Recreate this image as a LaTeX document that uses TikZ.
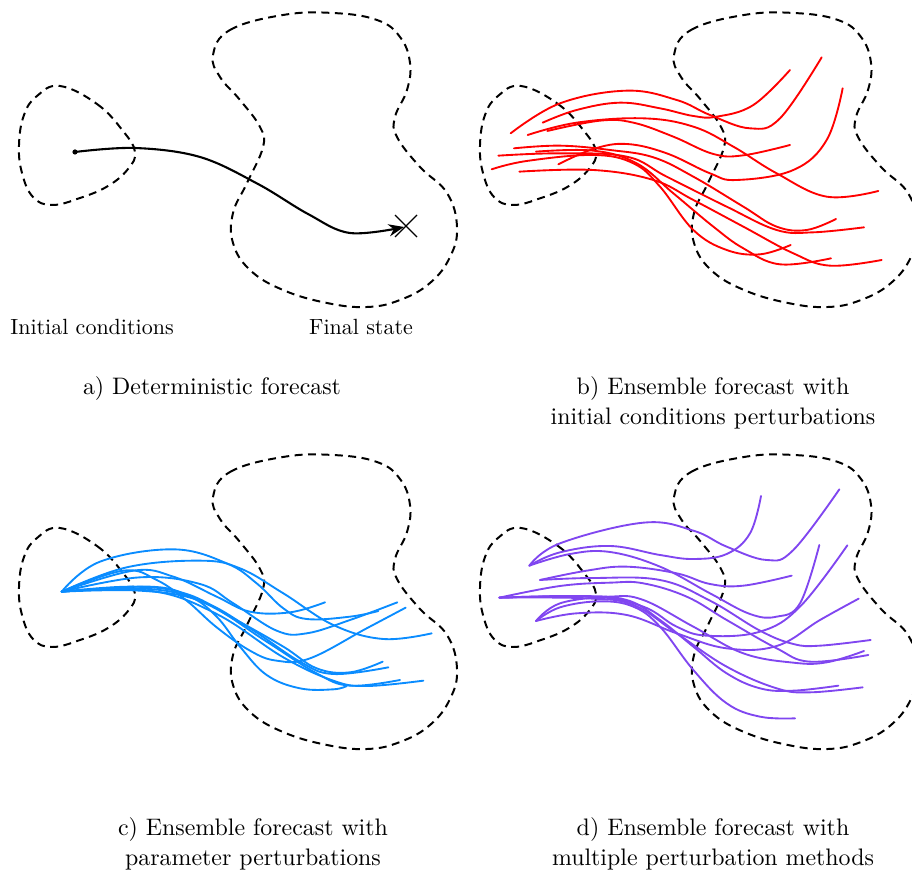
\documentclass[tikz,border=0pt]{standalone}
\usetikzlibrary{arrows.meta,calc}
\definecolor{ensred}{RGB}{255,0,0}
\definecolor{ensblue}{RGB}{10,140,255}
\definecolor{enspurple}{RGB}{128,70,240}
\tikzset{
  blob/.style={draw=black, line width=0.9pt, dash pattern=on 3.6pt off 2.5pt},
  traj/.style={line width=0.85pt, line cap=round},
  rtraj/.style={traj, draw=ensred},
  btraj/.style={traj, draw=ensblue},
  ptraj/.style={traj, draw=enspurple},
  lbl/.style={anchor=base, inner sep=0pt},
  captext/.style={anchor=base, inner sep=0pt, font=\fontsize{10.85pt}{13pt}\selectfont},
  pics/regions/.style={code={
    \draw[blob] plot[smooth cycle, tension=0.7] coordinates {
      (60,86) (97,104) (123,131) (135,152) (128,169) (108,186) (80,198)
      (52,205) (33,197) (22,173) (19,145) (24,115) (37,96)};
    \draw[blob] plot[smooth cycle, tension=0.7] coordinates {
      (213,55) (230,30) (283,15) (333,13) (377,20) (400,37) (410,63)
      (407,90) (395,117) (397,137) (420,167) (447,193) (457,227)
      (450,257) (430,283) (400,300) (367,307) (327,303) (283,290)
      (250,270) (233,243) (233,213) (247,183) (263,147) (260,127)
      (240,100) (220,77)};
  }},
}
\begin{document}
\begin{tikzpicture}[x={(0.4545pt,0)}, y={(0,-0.4545pt)}]
\useasboundingbox (0,0) rectangle (912,873);
\clip (0,0) rectangle (912,873);

% ---------- a) ----------
\pic (pa) at (0,0) {regions};
\coordinate (astart) at (75,152);
\coordinate (aend) at (404,227);
\fill (astart) circle[radius=2.6];
\draw[line width=0.95pt, -{Stealth[length=7pt,width=5.5pt]}] plot[smooth, tension=0.6] coordinates {
  (75,152) (135,148) (200,157) (258,184) (308,214) (350,233) (404,227)};
\node[inner sep=0pt, minimum size=0pt] (xmark) at (406,226) {};
\draw[line width=0.6pt] ($(xmark)+(-11,-11)$) -- ($(xmark)+(11,11)$);
\draw[line width=0.6pt] ($(xmark)+(-11,11)$) -- ($(xmark)+(11,-11)$);
\node[lbl] (linit) at (92,335) {Initial conditions};
\node[lbl] (lfinal) at (361,335) {Final state};
\node[captext] (capa) at (212,395) {a) Deterministic forecast};

% ---------- b) ----------
\pic (pb) at (461,0) {regions};
\begin{scope}[shift={(460,0)}, scale=1/3]
\draw[rtraj] plot[smooth, tension=0.65] coordinates {(152,400) (300,310) (500,272) (650,300) (750,345) (870,385) (960,355) (1085,172)};
\draw[rtraj] plot[smooth, tension=0.65] coordinates {(248,368) (350,330) (480,308) (600,325) (700,348) (770,350) (880,315) (990,210)};
\draw[rtraj] plot[smooth, tension=0.65] coordinates {(203,405) (350,368) (550,355) (700,380) (820,440) (950,520) (1100,590) (1255,573)};
\draw[rtraj] plot[smooth, tension=0.65] coordinates {(262,393) (420,362) (520,368) (640,410) (760,462) (850,466) (990,435)};
\draw[rtraj] plot[smooth, tension=0.65] coordinates {(295,493) (400,447) (500,432) (620,460) (750,520) (830,540) (1000,510) (1100,420) (1148,265)};
\draw[rtraj] plot[smooth, tension=0.65] coordinates {(162,445) (300,437) (450,450) (580,472) (700,530) (850,620) (950,680) (1040,690) (1128,657)};
\draw[rtraj] plot[smooth, tension=0.65] coordinates {(115,467) (300,460) (500,470) (620,530) (800,620) (950,690) (1060,697) (1212,682)};
\draw[rtraj] plot[smooth, tension=0.65] coordinates {(228,455) (400,452) (530,490) (640,580) (760,680) (850,745) (960,793) (1113,775)};
\draw[rtraj] plot[smooth, tension=0.65] coordinates {(95,508) (200,483) (400,465) (520,490) (600,560) (700,690) (800,750) (900,763) (992,735)};
\draw[rtraj] plot[smooth, tension=0.65] coordinates {(178,515) (400,510) (580,540) (700,600) (850,680) (1000,760) (1110,797) (1265,780)};
\end{scope}
\node[captext] (capb1) at (713,395) {b) Ensemble forecast with};
\node[captext] (capb2) at (713,425) {initial conditions perturbations};

% ---------- c) ----------
\pic (pc) at (0,442) {regions};
\begin{scope}[shift={(0,440)}, scale=1/3]
\draw[btraj] plot[smooth, tension=0.65] coordinates {(185,455) (300,365) (520,328) (680,370) (770,430) (850,505) (920,537) (1050,530) (1135,513)};
\draw[btraj] plot[smooth, tension=0.65] coordinates {(185,455) (380,382) (600,362) (720,385) (850,460) (1000,555) (1150,597) (1295,580)};
\draw[btraj] plot[smooth, tension=0.65] coordinates {(185,455) (400,392) (520,410) (650,470) (750,515) (870,517) (975,487)};
\draw[btraj] plot[smooth, tension=0.65] coordinates {(185,455) (420,412) (600,432) (700,490) (830,572) (920,580) (1050,540) (1192,487)};
\draw[btraj] plot[smooth, tension=0.65] coordinates {(185,455) (370,392) (470,420) (560,482) (650,562) (750,632) (830,662) (930,655) (1100,565) (1217,503)};
\draw[btraj] plot[smooth, tension=0.65] coordinates {(185,455) (400,440) (560,462) (700,535) (850,620) (950,685) (1050,697) (1148,665)};
\draw[btraj] plot[smooth, tension=0.65] coordinates {(185,455) (420,452) (600,482) (750,565) (900,665) (1000,702) (1165,682)};
\draw[btraj] plot[smooth, tension=0.65] coordinates {(185,455) (450,447) (620,492) (800,605) (950,700) (1050,737) (1200,720)};
\draw[btraj] plot[smooth, tension=0.65] coordinates {(185,455) (450,452) (650,522) (850,652) (1000,722) (1100,738) (1270,722)};
\draw[btraj] plot[smooth, tension=0.65] coordinates {(185,455) (450,440) (570,470) (650,530) (720,620) (800,705) (900,745) (1000,748) (1040,738)};
\end{scope}
\node[captext] (capc1) at (253,835) {c) Ensemble forecast with};
\node[captext] (capc2) at (253,865) {parameter perturbations};

% ---------- d) ----------
\pic (pd) at (461,442) {regions};
\begin{scope}[shift={(460,440)}, scale=1/3]
\draw[ptraj] plot[smooth, tension=0.65] coordinates {(208,377) (300,310) (550,248) (700,272) (800,320) (920,360) (1000,330) (1138,148)};
\draw[ptraj] plot[smooth, tension=0.65] coordinates {(208,377) (300,337) (450,318) (600,345) (700,357) (800,342) (870,280) (903,168)};
\draw[ptraj] plot[smooth, tension=0.65] coordinates {(208,377) (330,342) (450,336) (600,380) (750,460) (870,522) (950,530) (1020,490) (1078,315)};
\draw[ptraj] plot[smooth, tension=0.65] coordinates {(240,420) (380,392) (500,380) (650,400) (750,432) (850,437) (995,407)};
\draw[ptraj] plot[smooth, tension=0.65] coordinates {(240,420) (400,414) (600,420) (750,482) (900,572) (1000,612) (1080,617) (1232,600)};
\draw[ptraj] plot[smooth, tension=0.65] coordinates {(118,473) (300,438) (450,428) (550,430) (680,470) (800,540) (950,625) (1050,665) (1225,645)};
\draw[ptraj] plot[smooth, tension=0.65] coordinates {(118,473) (350,468) (500,480) (600,540) (700,620) (800,700) (900,745) (1000,752) (1135,737)};
\draw[ptraj] plot[smooth, tension=0.65] coordinates {(228,543) (300,490) (450,470) (550,480) (700,560) (850,640) (1000,668) (1100,667) (1212,633)};
\draw[ptraj] plot[smooth, tension=0.65] coordinates {(228,543) (300,502) (420,484) (520,500) (600,560) (700,690) (800,790) (900,830) (1005,835)};
\draw[ptraj] plot[smooth, tension=0.65] coordinates {(228,543) (350,520) (500,525) (650,580) (800,625) (950,618) (1080,540) (1196,476)};
\draw[ptraj] plot[smooth, tension=0.65] coordinates {(118,473) (400,470) (550,500) (650,560) (740,587) (900,575) (1020,500) (1162,316)};
\draw[ptraj] plot[smooth, tension=0.65] coordinates {(118,473) (380,475) (520,495) (650,580) (800,680) (950,745) (1050,757) (1208,742)};
\end{scope}
\node[captext] (capd1) at (713,835) {d) Ensemble forecast with};
\node[captext] (capd2) at (713,865) {multiple perturbation methods};
\end{tikzpicture}
\end{document}
